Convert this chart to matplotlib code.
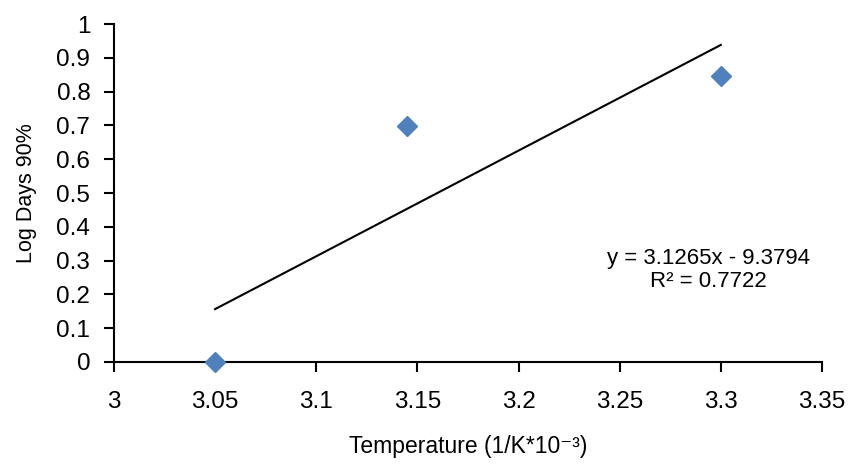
import matplotlib
matplotlib.use("Agg")
import matplotlib.pyplot as plt
import numpy as np

# data
temperature = [3.05, 3.145, 3.30]
log_days = [0.0, 0.699, 0.845]
slope = 3.1265
intercept = -9.3794
r2 = 0.7722
xticks = [3, 3.05, 3.1, 3.15, 3.2, 3.25, 3.3, 3.35]
yticks = [0, 0.1, 0.2, 0.3, 0.4, 0.5, 0.6, 0.7, 0.8, 0.9, 1]

plt.rcParams['font.family'] = ['Liberation Sans', 'DejaVu Sans']

fig = plt.figure(figsize=(8.5, 4.68), dpi=100)
ax = fig.add_axes([0.134, 0.2265, 0.833, 0.7222])

ax.plot(temperature, log_days, linestyle="none", marker="D", markersize=10,
        color="#4F81BD", zorder=3, clip_on=False)

# linear trendline
xt = np.array([min(temperature), max(temperature)])
ax.plot(xt, slope * xt + intercept, color="black", linewidth=1.5)

ax.text(3.294, 0.272, f"y = {slope}x - {-intercept}\nR² = {r2}",
        ha="center", va="center", fontsize=16, linespacing=1.15)

ax.set_xlim(3, 3.35)
ax.set_ylim(0, 1)
ax.set_xticks(xticks)
ax.set_xticklabels([f"{t:g}" for t in xticks])
ax.set_yticks(yticks)
ax.set_yticklabels([f"{t:g}" for t in yticks])
ax.tick_params(axis="both", labelsize=17.5, direction="out", length=7, width=1.5)
ax.tick_params(axis="x", pad=14)
ax.tick_params(axis="y", pad=10)

for s in ["top", "right"]:
    ax.spines[s].set_visible(False)
for s in ["left", "bottom"]:
    ax.spines[s].set_linewidth(1.5)

ax.set_xlabel("Temperature (1/K*10⁻³)", fontsize=16.5, labelpad=16)
ax.set_ylabel("Log Days 90%", fontsize=15.5, labelpad=14)

fig.savefig("out.png", dpi=100)
